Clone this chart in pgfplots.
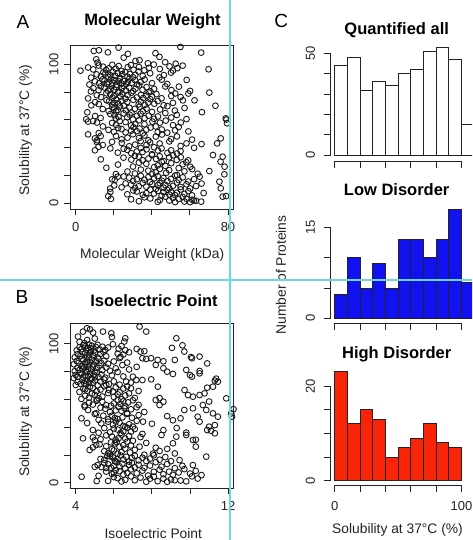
\documentclass[border=0pt]{standalone}
\usepackage{fontspec}
\setmainfont{Liberation Sans}
\usepackage{pgfplots}
\pgfplotsset{compat=1.18}

\definecolor{ink}{RGB}{35,35,35}
\definecolor{histblue}{RGB}{18,18,240}
\definecolor{histred}{RGB}{248,36,8}
\definecolor{guide}{RGB}{110,214,226}

\pgfplotsset{
  rbase/.style={
    scale only axis,
    axis line style={ink, line width=0.9pt},
    tick style={ink, line width=0.9pt},
    tick align=outside,
    major tick length=6pt,
    xtick pos=bottom, ytick pos=left,
    ticklabel style={font=\fontsize{13}{14}\selectfont, text=ink},
    yticklabel style={rotate=90, anchor=south},
  },
  rscatter/.style={rbase,
    xticklabel shift=4pt, yticklabel shift=2pt},
  rhist/.style={rbase,
    width=143.7pt, xmin=-3.4, xmax=110,
    axis line style={draw=none},
    major tick length=7pt,
    xtick={0,20,...,100}, xticklabels={,,,,,},
    xticklabel shift=6pt, yticklabel shift=5pt,
    clip=false},
  pts/.style={only marks, mark=o, mark size=2.9pt, black!90, line width=0.9pt},
}
\newcommand{\titlefont}{\fontsize{16.5}{18}\selectfont\bfseries}
\newcommand{\labelfont}{\fontsize{13.8}{15}\selectfont}

\begin{document}
\begin{tikzpicture}[x=1pt,y=1pt]
\useasboundingbox (0,0) rectangle (472,540);
\clip (0,0) rectangle (472,540);

% ---- A: molecular weight ----
\begin{axis}[rscatter, at={(70pt,331pt)}, anchor=south west,
  width=163.5pt, height=164pt,
  xmin=-3.0, xmax=82.9, ymin=-4.3, ymax=113.9,
  xtick={0,20,...,80}, xticklabels={0,,,,80},
  ytick={0,20,...,100}, yticklabels={0,,,,,100}]
\addplot[pts] coordinates {
(9.5,109.6) (12.2,110.1) (16.9,108.6) (22.5,112.0) (27.4,107.5) (41.9,108.0) (44.0,105.3) (55.0,112.5) (65.9,108.4)
(10.8,103.6) (11.5,101.2) (25.2,104.8) (31.4,102.4) (33.5,102.9) (37.9,100.7) (47.0,101.5) (52.5,100.4)
(2.5,95.4) (6.5,97.7) (9.2,96.3) (12.1,99.1) (14.3,98.3) (16.0,95.9) (17.4,97.1) (19.2,99.6) (21.0,96.8) (22.6,98.7) (24.1,95.2) (27.3,97.9) (29.0,99.4) (30.4,96.1) (33.2,98.0) (36.1,95.7) (38.4,97.4) (41.0,99.8) (44.2,96.6) (49.3,98.5) (51.1,95.5) (53.4,97.2) (56.2,99.0) (69.8,96.4)
(8.1,90.4) (11.0,92.7) (13.2,91.3) (14.5,94.1) (15.6,93.3) (17.1,90.9) (18.2,92.1) (19.5,94.6) (20.6,91.8) (22.1,93.7) (23.3,90.2) (24.5,92.9) (26.0,94.4) (27.2,91.1) (28.4,93.0) (30.1,90.7) (31.3,92.4) (33.0,94.8) (35.2,91.6) (39.1,93.5) (44.0,90.5) (46.3,92.2) (50.1,94.0)
(7.2,85.4) (10.1,87.7) (12.3,86.3) (14.0,89.1) (15.2,88.3) (16.3,85.9) (17.2,87.1) (18.5,89.6) (19.3,86.8) (20.2,88.7) (21.5,85.2) (22.4,87.9) (23.1,89.4) (24.2,86.1) (25.3,88.0) (26.5,85.7) (27.4,87.4) (28.2,89.8) (29.5,86.6) (31.2,88.5) (32.3,85.5) (34.1,87.2) (36.2,89.0) (40.1,86.4) (45.2,88.9) (48.1,85.8) (58.3,88.7)
(8.0,80.4) (9.3,82.7) (12.0,81.3) (13.2,84.1) (15.1,83.3) (17.0,80.9) (18.3,82.1) (19.1,84.6) (20.3,81.8) (21.2,83.7) (23.0,80.2) (24.3,82.9) (25.1,84.4) (26.4,81.1) (28.1,83.0) (30.2,80.7) (31.4,82.4) (33.3,84.8) (35.1,81.6) (37.2,83.5) (39.3,80.5) (41.2,82.2) (47.1,84.0) (50.3,81.4) (54.2,83.9) (60.1,80.8)
(6.5,75.4) (11.1,77.7) (13.3,76.3) (16.1,79.1) (18.2,78.3) (19.3,75.9) (20.1,77.1) (22.2,79.6) (23.5,76.8) (24.4,78.7) (26.1,75.2) (27.3,77.9) (29.2,79.4) (32.1,76.1) (34.3,78.0) (35.5,75.7) (37.1,77.4) (38.3,79.8) (40.2,76.6) (42.4,78.5) (45.1,75.5) (50.2,77.2) (52.3,79.0) (55.1,76.4) (59.2,78.9) (70.2,79.6)
(8.2,70.4) (10.2,72.7) (12.1,71.3) (16.2,74.1) (17.5,73.3) (19.1,70.9) (20.4,72.1) (21.2,74.6) (22.3,71.8) (24.1,73.7) (25.3,70.2) (27.1,72.9) (30.3,74.4) (33.1,71.1) (34.2,73.0) (36.3,70.7) (38.1,72.4) (39.2,74.8) (41.3,71.6) (43.1,73.5) (46.2,70.5) (51.1,72.2) (56.3,74.0) (62.4,74.0) (73.4,70.1)
(6.1,65.4) (14.2,67.7) (17.3,66.3) (19.2,69.1) (20.1,68.3) (21.3,65.9) (22.1,67.1) (23.2,69.6) (26.3,66.8) (28.2,68.7) (29.3,65.2) (31.1,67.9) (33.5,69.4) (35.3,66.1) (37.2,68.0) (40.1,65.7) (44.3,67.4) (48.2,69.8) (52.1,66.6) (57.2,68.5) (66.3,65.5)
(5.5,60.4) (10.2,62.7) (13.1,61.3) (18.2,64.1) (20.3,63.3) (21.1,60.9) (22.5,62.1) (25.2,64.6) (27.1,61.8) (28.3,63.7) (30.1,60.2) (32.2,62.9) (34.1,64.4) (36.2,61.1) (38.3,63.0) (41.1,60.7) (43.2,62.4) (47.1,64.8) (50.2,61.6) (53.1,63.5) (58.2,60.5)
(6.5,58.7) (9.1,59.1) (11.2,58.0) (14.3,55.2) (19.1,57.7) (21.2,56.3) (23.1,59.1) (26.2,58.3) (29.1,55.9) (31.3,57.1) (33.2,59.6) (36.1,56.8) (40.3,58.7) (42.1,55.2) (44.2,57.9) (47.3,59.4) (51.1,56.1) (55.2,58.0) (78.8,61.0) (79.5,57.5)
(12.1,50.4) (17.2,52.7) (20.1,51.3) (22.3,54.1) (24.1,53.3) (26.2,50.9) (29.1,52.1) (30.3,54.6) (32.1,51.8) (33.5,53.7) (35.2,50.2) (37.1,52.9) (39.3,54.4) (43.1,51.1) (45.2,53.0) (48.1,50.7) (52.2,52.4) (54.1,54.8) (59.2,51.6) (79.2,60.2)
(6.5,49.5) (10.1,46.6) (11.2,45.3) (13.1,48.3) (21.2,48.3) (24.1,45.9) (27.2,47.1) (30.1,49.6) (33.2,46.8) (36.1,48.7) (38.2,45.2) (42.1,47.9) (45.3,49.4) (50.1,46.1) (53.2,48.0) (61.1,45.7) (76.2,46.6)
(11.1,44.0) (12.0,40.6) (14.2,41.8) (19.1,44.1) (24.2,43.3) (28.1,40.9) (31.2,42.1) (34.1,44.6) (37.2,41.8) (39.1,43.7) (41.2,40.2) (44.1,42.9) (49.2,44.4) (55.1,41.1) (58.2,43.0) (66.1,42.5) (74.3,43.0)
(10.1,38.0) (18.2,39.4) (22.1,36.3) (25.2,39.1) (27.1,38.3) (29.2,35.9) (32.1,37.1) (34.2,39.6) (35.1,36.8) (37.2,38.7) (40.1,35.2) (43.2,37.9) (45.1,39.4) (48.2,36.1) (50.1,38.0) (53.2,35.7) (55.1,37.4) (62.2,39.8)
(13.2,31.5) (25.1,32.7) (29.2,31.3) (31.1,34.1) (33.2,33.3) (35.1,30.9) (38.2,32.1) (40.1,34.6) (42.2,31.8) (44.1,33.7) (46.2,30.2) (49.1,32.9) (51.2,34.4) (53.1,31.1) (55.2,33.0) (59.1,30.7) (72.1,34.6) (77.2,33.4)
(16.1,25.4) (22.2,27.7) (30.1,26.3) (33.2,29.1) (37.1,28.3) (41.2,25.9) (43.1,27.1) (45.2,29.6) (47.1,26.8) (50.2,28.7) (54.1,25.2) (56.2,27.9) (58.1,29.4) (60.2,26.1) (76.1,29.8) (78.2,26.2)
(21.1,20.9) (27.2,22.7) (31.1,21.3) (34.2,24.1) (38.1,23.3) (40.2,20.9) (42.1,22.1) (44.2,24.6) (47.5,21.8) (49.1,23.7) (53.2,20.2) (57.1,22.9) (61.2,24.4) (64.1,21.1) (70.2,23.0) (78.1,20.7)
(19.1,17.1) (20.5,16.6) (22.1,19.0) (25.2,19.1) (28.1,18.3) (30.2,15.9) (32.1,17.1) (34.2,19.6) (36.1,16.8) (38.2,18.7) (39.1,15.2) (41.2,17.9) (43.1,19.4) (45.2,16.1) (46.1,18.0) (48.2,15.7) (50.1,17.4) (52.2,19.8) (54.1,16.6) (56.2,18.5) (59.1,15.5) (62.2,17.2) (65.1,19.0) (75.5,15.4)
(18.1,10.4) (20.2,12.7) (24.1,11.3) (26.2,14.1) (29.1,13.3) (31.2,10.9) (33.1,12.1) (35.2,14.6) (37.1,11.8) (40.2,13.7) (42.1,10.2) (43.2,12.9) (44.1,14.4) (46.2,11.1) (47.1,13.0) (49.2,10.7) (51.1,12.4) (53.2,14.8) (55.1,11.6) (58.2,13.5) (60.1,10.5) (63.2,12.2) (66.1,14.0) (76.2,10.6)
(17.1,5.0) (18.2,8.0) (27.1,6.3) (30.2,9.1) (32.1,8.3) (35.2,5.9) (37.1,7.1) (39.2,9.6) (41.1,6.8) (43.2,8.7) (45.1,5.2) (46.2,7.9) (48.1,9.4) (49.2,6.1) (50.1,8.0) (52.2,5.7) (53.1,7.4) (55.2,9.8) (57.1,6.6) (59.2,8.5) (61.1,5.5) (67.2,7.2)
(18.5,3.0) (29.1,2.7) (33.2,1.3) (36.1,4.1) (39.2,3.3) (43.1,0.9) (44.2,2.1) (47.1,4.6) (49.2,1.8) (51.1,3.7) (52.2,0.7) (54.1,2.9) (56.2,4.4) (57.1,1.1) (58.2,3.0) (60.1,0.7) (61.2,2.4) (62.1,1.8) (63.2,1.6) (65.9,1.0) (77.2,4.6) (79.0,5.0)
};
\end{axis}

% ---- B: isoelectric point ----
\begin{axis}[rscatter, at={(70pt,52pt)}, anchor=south west,
  width=163.9pt, height=165pt,
  xmin=3.7, xmax=12.3, ymin=-3.8, ymax=115.1,
  xtick={4,6,...,12}, xticklabels={4,,,,12},
  ytick={0,20,...,100}, yticklabels={0,,,,,100}]
\addplot[pts] coordinates {
(4.12,105.3) (4.38,108.9) (4.59,111.3) (4.75,110.5) (4.91,108.2) (5.43,108.9) (5.87,107.7) (7.35,112.5) (7.70,108.9)
(4.20,101.5) (4.60,102.8) (5.00,103.9) (5.90,105.0) (6.60,104.1) (6.55,101.7) (9.28,104.1) (4.45,100.6)
(4.05,95.4) (4.20,97.7) (4.30,96.3) (4.40,99.1) (4.50,98.3) (4.55,95.9) (4.65,97.1) (4.70,99.6) (4.80,96.8) (4.85,98.7) (4.95,95.2) (5.05,97.9) (5.15,99.4) (5.25,96.1) (5.40,98.0) (5.55,95.7) (5.70,97.4) (5.95,99.8) (6.25,96.6) (6.40,98.5) (6.60,95.5) (9.05,97.2) (9.60,99.0) (7.20,96.4)
(3.95,90.4) (4.10,92.7) (4.25,91.3) (4.35,94.1) (4.50,93.3) (4.60,90.9) (4.70,92.1) (4.80,94.6) (4.90,91.8) (5.00,93.7) (5.15,90.2) (5.30,92.9) (5.45,94.4) (5.60,91.1) (6.20,93.0) (6.35,90.7) (6.50,92.4) (7.40,94.5) (7.60,94.8) (9.70,94.5) (10.05,90.5) (10.50,90.9) (6.80,94.0)
(3.90,85.4) (4.05,87.7) (4.15,86.3) (4.30,89.1) (4.40,88.3) (4.50,85.9) (4.60,87.1) (4.70,89.6) (4.75,86.8) (4.85,88.7) (4.95,85.2) (5.05,87.9) (5.20,89.4) (5.35,86.1) (5.50,88.0) (5.70,85.7) (6.00,87.4) (6.30,89.8) (6.70,86.6) (7.50,89.7) (7.70,89.2) (7.95,89.7) (8.30,88.5) (8.60,87.5) (9.20,88.5) (10.10,89.7) (10.90,86.0)
(3.95,80.4) (4.10,82.7) (4.20,81.3) (4.30,84.1) (4.45,83.3) (4.55,80.9) (4.65,82.1) (4.70,84.6) (4.80,81.8) (4.90,83.7) (5.00,80.2) (5.10,82.9) (5.25,84.4) (5.40,81.1) (5.60,83.0) (5.80,80.7) (6.10,82.4) (6.45,84.8) (6.80,81.6) (7.20,83.5) (8.20,84.9) (8.60,82.5) (8.80,80.0) (9.80,81.3) (10.50,80.5) (4.35,82.2)
(3.90,75.4) (4.00,77.7) (4.10,76.3) (4.20,79.1) (4.30,78.3) (4.40,75.9) (4.50,77.1) (4.60,79.6) (4.65,76.8) (4.75,78.7) (4.85,75.2) (4.95,77.9) (5.10,79.4) (5.20,76.1) (5.35,78.0) (5.55,75.7) (5.90,77.4) (6.20,79.8) (6.50,76.6) (7.00,76.4) (9.10,78.4) (10.00,77.6) (10.10,76.4) (10.50,78.8) (11.37,75.0) (5.00,76.0)
(4.00,70.4) (4.10,72.7) (4.25,71.3) (4.35,74.1) (4.50,73.3) (4.55,70.9) (4.70,72.1) (4.80,74.6) (4.90,71.8) (5.00,73.7) (5.15,70.2) (5.30,72.9) (5.50,74.4) (5.75,71.1) (6.00,73.0) (6.30,70.7) (6.65,72.8) (7.18,74.0) (7.50,74.0) (7.96,74.5) (11.46,72.8) (11.30,73.6) (4.45,71.6) (5.60,70.5) (6.90,72.2)
(4.20,65.4) (4.40,67.7) (4.60,66.3) (4.75,69.1) (4.90,68.3) (5.10,65.9) (5.30,67.1) (5.50,69.6) (5.75,66.8) (6.10,68.7) (6.30,65.2) (6.50,67.9) (6.70,69.4) (7.30,66.1) (8.31,69.2) (9.71,66.8) (11.20,69.2) (5.95,65.7) (4.50,67.4) (6.90,68.0) (10.90,68.5)
(4.30,60.4) (4.50,62.7) (4.70,61.3) (4.85,64.1) (5.00,63.3) (5.20,60.9) (5.40,62.1) (5.70,64.6) (6.00,61.8) (6.20,63.7) (6.40,60.2) (6.60,62.9) (6.80,64.4) (7.10,61.1) (9.89,63.2) (10.15,62.0) (10.50,63.2) (10.76,64.4) (11.90,60.8) (8.40,61.0) (5.10,60.0)
(4.47,55.8) (4.70,57.7) (4.90,56.3) (5.10,59.1) (5.40,58.3) (5.60,55.9) (6.00,57.1) (6.20,59.6) (6.35,56.8) (6.50,58.7) (6.60,55.2) (6.75,57.9) (7.00,59.4) (7.30,56.1) (8.20,59.6) (8.60,58.4) (8.40,56.0) (10.67,56.0) (11.00,58.5) (5.85,55.5)
(4.47,54.8) (4.65,52.4) (5.08,50.0) (5.30,54.1) (5.55,53.3) (5.80,50.9) (6.10,52.1) (6.25,54.6) (6.40,51.8) (6.55,53.7) (6.70,50.2) (6.90,52.9) (7.20,54.4) (9.70,52.4) (10.15,53.6) (10.85,52.4) (11.20,50.0) (12.16,50.0) (12.28,53.0) (7.60,51.0)
(4.30,46.4) (5.00,49.6) (5.20,45.3) (5.45,48.3) (5.90,48.3) (6.20,45.9) (6.45,47.1) (6.70,49.6) (6.95,46.8) (7.30,48.7) (9.50,46.4) (10.40,47.6) (11.46,47.6) (12.20,47.6) (8.80,48.0) (5.70,45.7) (6.05,46.6)
(5.34,42.8) (5.70,44.0) (5.95,41.8) (6.10,44.1) (6.30,43.3) (6.50,40.9) (6.80,42.1) (7.00,40.4) (7.20,44.6) (7.53,44.0) (9.10,45.0) (10.50,44.0) (11.00,40.4) (11.30,41.5) (4.60,43.0) (8.00,42.5) (6.60,40.2)
(4.90,38.0) (5.50,39.4) (5.80,36.3) (6.00,39.1) (6.20,38.3) (6.35,35.9) (6.50,37.1) (6.70,39.6) (6.90,36.8) (7.10,38.7) (7.50,35.2) (8.60,37.9) (9.30,39.4) (9.80,36.1) (10.90,38.0) (11.30,35.6) (11.10,37.4) (5.20,36.0)
(4.38,32.0) (4.90,32.7) (5.30,31.3) (5.60,34.1) (5.90,33.3) (6.10,30.9) (6.25,32.1) (6.40,34.6) (6.60,31.8) (6.80,33.7) (7.00,30.2) (7.40,32.9) (8.50,34.4) (9.28,33.2) (9.80,34.4) (10.15,30.8) (10.30,31.0) (5.00,30.5)
(5.08,27.2) (5.25,27.7) (5.60,26.3) (5.85,29.1) (6.05,28.3) (6.30,25.9) (6.50,27.1) (6.70,29.6) (6.90,26.8) (7.35,26.0) (7.70,28.7) (8.20,25.2) (9.10,28.4) (10.30,26.0) (4.90,25.5) (6.15,29.4)
(4.73,23.6) (5.50,22.7) (5.70,21.3) (5.90,24.1) (6.00,23.3) (6.20,20.9) (6.40,22.1) (6.60,24.6) (6.85,21.8) (7.10,23.7) (7.60,20.2) (8.05,21.0) (8.40,22.9) (8.80,24.4) (9.20,21.1) (5.80,20.5)
(5.30,17.1) (5.50,16.6) (5.65,19.0) (5.80,19.1) (5.95,18.3) (6.05,15.9) (6.20,17.1) (6.35,19.6) (6.50,16.8) (6.65,18.7) (6.80,15.2) (6.95,17.9) (7.10,19.4) (7.30,16.1) (7.50,18.0) (7.70,15.7) (7.90,17.4) (8.10,19.8) (8.40,16.6) (8.70,18.5) (9.00,15.5) (9.45,16.3) (10.85,18.8) (6.10,15.4)
(5.00,11.5) (5.15,12.7) (5.35,11.3) (5.50,14.1) (5.70,13.3) (5.85,10.9) (6.00,12.1) (6.15,14.6) (6.30,11.8) (6.45,13.7) (6.60,10.2) (6.80,12.9) (6.95,14.4) (7.10,11.1) (7.30,13.0) (7.60,10.7) (7.90,12.4) (8.20,14.8) (8.50,11.6) (8.80,13.5) (9.20,10.5) (9.60,12.2) (10.15,12.7) (5.60,10.6)
(5.20,5.0) (5.60,8.0) (5.90,6.3) (6.10,9.1) (6.30,8.3) (6.50,5.9) (6.70,7.1) (6.90,9.6) (7.20,6.8) (7.50,8.7) (7.80,5.2) (8.10,7.9) (8.40,9.4) (8.60,6.1) (8.90,8.0) (9.10,5.7) (9.40,7.4) (9.70,9.8) (10.00,6.6) (10.30,8.5) (10.60,5.5) (6.00,7.2)
(4.31,4.3) (5.10,1.2) (5.70,1.3) (6.00,4.1) (6.20,3.3) (6.40,0.9) (6.60,2.1) (6.90,4.6) (7.10,1.8) (7.40,3.7) (7.70,0.7) (7.90,2.9) (8.10,4.4) (8.30,1.1) (8.60,3.0) (8.80,0.7) (9.00,2.4) (9.20,1.8) (9.50,1.6) (9.80,1.0) (10.10,4.6) (10.40,3.0)
};
\end{axis}

% ---- C: histograms ----
\begin{axis}[rhist, at={(330.5pt,379pt)}, anchor=south west,
  height=120pt, ymin=-2.8, ymax=56,
  ytick={0,10,...,50}, yticklabels={0,,,,,50}]
\addplot[ybar interval, fill=white, draw=ink, line width=0.9pt] coordinates {
(0,44) (10,48) (20,32) (30,36) (40,34) (50,40) (60,42) (70,51) (80,53) (90,47) (100,15) (110,15)};
\draw[ink, line width=0.9pt] (axis cs:-3.4,0) -- (axis cs:-3.4,50);
\draw[ink, line width=0.9pt] (axis cs:0,-2.8) -- (axis cs:100,-2.8);
\end{axis}

\begin{axis}[rhist, at={(330.5pt,216.7pt)}, anchor=south west,
  height=119.8pt, ymin=-0.83, ymax=19,
  ytick={0,5,10,15}, yticklabels={0,,,15}]
\addplot[ybar interval, fill=histblue, draw=ink, line width=0.9pt] coordinates {
(0,4) (10,10) (20,5) (30,9) (40,5) (50,13) (60,13) (70,10) (80,13) (90,18) (100,6) (110,6)};
\draw[ink, line width=0.9pt] (axis cs:-3.4,0) -- (axis cs:-3.4,15);
\draw[ink, line width=0.9pt] (axis cs:0,-0.83) -- (axis cs:100,-0.83);
\end{axis}

\begin{axis}[rhist, at={(330.5pt,55pt)}, anchor=south west,
  height=117.9pt, ymin=-0.9, ymax=24,
  xticklabels={0,,,,,100},
  ytick={0,5,...,20}, yticklabels={0,,,,20}]
\addplot[ybar interval, fill=histred, draw=ink, line width=0.9pt] coordinates {
(0,23) (10,12) (20,15) (30,13) (40,5) (50,7) (60,9) (70,12) (80,8) (90,7) (100,7)};
\draw[ink, line width=0.9pt] (axis cs:-3.4,0) -- (axis cs:-3.4,20);
\draw[ink, line width=0.9pt] (axis cs:0,-0.9) -- (axis cs:100,-0.9);
\end{axis}

% ---- titles and labels ----
\node[font=\fontsize{19}{20}\selectfont, anchor=base] at (23,511.7) {A};
\node[font=\fontsize{19}{20}\selectfont, anchor=base] at (22,236.7) {B};
\node[font=\fontsize{19}{20}\selectfont, anchor=base] at (281.3,512.7) {C};
\node[font=\titlefont, anchor=base] at (152.5,514) {Molecular Weight};
\node[font=\titlefont, anchor=base] at (154,233.3) {Isoelectric Point};
\node[font=\titlefont, anchor=base] at (396.7,505.7) {Quantified all};
\node[font=\titlefont, anchor=base] at (396.7,344) {Low Disorder};
\node[font=\titlefont, anchor=base] at (396.7,181.7) {High Disorder};
\node[font=\labelfont, text=ink, anchor=base] at (152.2,281.7) {Molecular Weight (kDa)};
\node[font=\labelfont, text=ink, anchor=base] at (153.3,1.7) {Isoelectric Point};
\node[font=\labelfont, text=ink, anchor=base] at (397.5,6.7) {Solubility at 37°C (\%)};
\node[font=\labelfont, text=ink, rotate=90] at (25.5,410) {Solubility at 37°C (\%)};
\node[font=\labelfont, text=ink, rotate=90] at (25.5,128.3) {Solubility at 37°C (\%)};
\node[font=\labelfont, text=ink, rotate=90] at (281,265) {Number of Proteins};

% ---- screen guide lines ----
\draw[guide, line width=1.5pt] (0,260) -- (472,260);
\draw[guide, line width=2pt] (230,0) -- (230,540);
\end{tikzpicture}
\end{document}
